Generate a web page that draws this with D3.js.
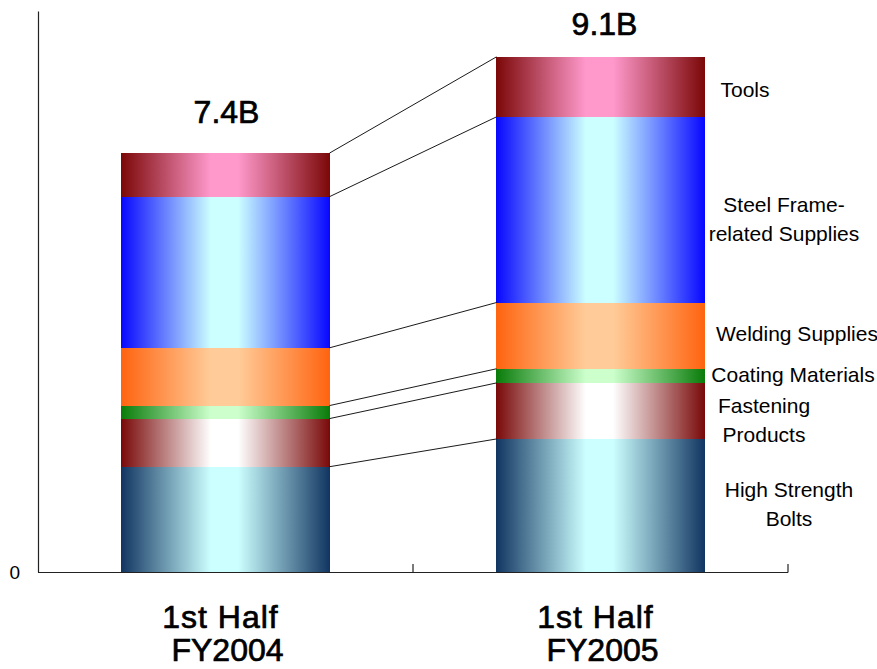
<!DOCTYPE html>
<html>
<head>
<meta charset="utf-8">
<script src="https://cdn.jsdelivr.net/npm/d3@7"></script>
<style>
  html, body { margin: 0; padding: 0; background: #ffffff; }
  svg { display: block; font-family: "Liberation Sans", Arial, sans-serif; }
</style>
</head>
<body>
<svg id="chart" width="877" height="669"></svg>
<script>
// ---- data ----
const categories = ["1st Half FY2004", "1st Half FY2005"];
const categoryLine1 = ["1st Half", "1st Half"];
const categoryLine2 = ["FY2004", "FY2005"];
const totalLabels = ["7.4B", "9.1B"];
const segments = ["High Strength Bolts", "Fastening Products", "Coating Materials",
                  "Welding Supplies", "Steel Frame-related Supplies", "Tools"];
const segmentLabelLines = [["High Strength", "Bolts"], ["Fastening", "Products"], ["Coating Materials"],
                           ["Welding Supplies"], ["Steel Frame-", "related Supplies"], ["Tools"]];
const valuesFY2004 = [1.86, 0.85, 0.23, 1.02, 2.67, 0.77];
const valuesFY2005 = [2.35, 0.99, 0.25, 1.17, 3.28, 1.06];
const yTicks = [0];

// ---- styles / layout ----
const edgeColors   = ["#123662", "#7a0a0a", "#0a7c0a", "#ff6410", "#0808ff", "#7c0808"];
const centerColors = ["#ccffff", "#ffffff", "#ccffcc", "#ffcc99", "#ccffff", "#ff99cc"];
const labelCenterX = [789, 764, 793, 797, 784, 745];
const labelShiftY  = [-1, 9, -1.5, -2.5, 9, 3];
const totalLabelDx = [1, 4];
const totalLabelGap = [30, 22];
const catLineDx = [[-5, 2], [-5, 2]];

const svg = d3.select("#chart");
const x0 = 38, x1 = 788, yBase = 572, yTop = 11;

const x = d3.scaleBand().domain(categories).range([x0, x1])
  .paddingInner(0.4453).paddingOuter(0.4453 / 2);
const y = d3.scaleLinear().domain([0, 9.91]).range([yBase, yTop]);

const series = [valuesFY2004, valuesFY2005];
const stacked = series.map((vals, ci) => {
  let acc = 0;
  return vals.map((v, si) => {
    const d = { cat: categories[ci], si, y0: acc, y1: acc + v };
    acc += v;
    return d;
  });
});

// gradients
const defs = svg.append("defs");
segments.forEach((s, i) => {
  const g = defs.append("linearGradient").attr("id", "grad" + i)
    .attr("x1", "0%").attr("x2", "100%").attr("y1", "0%").attr("y2", "0%");
  g.append("stop").attr("offset", "0%").attr("stop-color", edgeColors[i]);
  g.append("stop").attr("offset", "43%").attr("stop-color", centerColors[i]);
  g.append("stop").attr("offset", "56%").attr("stop-color", centerColors[i]);
  g.append("stop").attr("offset", "100%").attr("stop-color", edgeColors[i]);
});

// bars
svg.append("g").attr("shape-rendering", "crispEdges")
  .selectAll("g.bar").data(stacked).join("g").attr("class", "bar")
  .selectAll("rect").data(d => d).join("rect")
  .attr("x", d => x(d.cat))
  .attr("width", x.bandwidth())
  .attr("y", d => y(d.y1))
  .attr("height", d => y(d.y0) - y(d.y1))
  .attr("fill", d => "url(#grad" + d.si + ")");

// connector lines
svg.append("g").selectAll("line").data(segments).join("line")
  .attr("x1", x(categories[0]) + x.bandwidth())
  .attr("y1", (s, i) => y(stacked[0][i].y1))
  .attr("x2", x(categories[1]))
  .attr("y2", (s, i) => y(stacked[1][i].y1))
  .attr("stroke", "#000").attr("stroke-width", 0.9);

// y axis (line via d3.axisLeft, tick label drawn explicitly)
const yAxis = d3.axisLeft(y).tickValues(yTicks).tickSize(0).tickSizeOuter(0).tickFormat("");
const gy = svg.append("g").attr("transform", `translate(${x0},0)`).call(yAxis);
gy.select(".domain").attr("stroke", "#222").attr("stroke-width", 1.2);
svg.append("g").selectAll("text").data(yTicks).join("text")
  .attr("x", 20).attr("y", d => y(d) + 7)
  .attr("text-anchor", "end")
  .attr("font-family", "Liberation Sans, Arial, sans-serif")
  .attr("font-size", "19px").attr("fill", "#000")
  .text(d => d3.format("d")(d));

// x axis: baseline with category-boundary ticks
const boundaries = categories.map(c => x(c) - x.step() * x.paddingInner() / 2 + x.step());
svg.append("line").attr("x1", x0).attr("x2", x1).attr("y1", yBase + 0.5).attr("y2", yBase + 0.5)
  .attr("stroke", "#222").attr("stroke-width", 1.2);
svg.append("g").selectAll("line").data(boundaries).join("line")
  .attr("x1", d => d).attr("x2", d => d)
  .attr("y1", yBase + 0.5).attr("y2", yBase - 8)
  .attr("stroke", "#222").attr("stroke-width", 1.2);

// total labels
svg.append("g").selectAll("text").data(totalLabels).join("text")
  .attr("x", (d, i) => x(categories[i]) + x.bandwidth() / 2 + totalLabelDx[i])
  .attr("y", (d, i) => y(d3.sum(series[i])) - totalLabelGap[i])
  .attr("text-anchor", "middle").attr("font-size", 32)
  .attr("fill", "#000").attr("stroke", "#000").attr("stroke-width", 0.7)
  .text(d => d);

// category labels
const cg = svg.append("g").selectAll("text").data(categories).join("text")
  .attr("text-anchor", "middle").attr("font-size", 32)
  .attr("fill", "#000").attr("stroke", "#000").attr("stroke-width", 0.7);
cg.append("tspan").attr("x", (d, i) => x(d) + x.bandwidth() / 2 + catLineDx[i][0]).attr("y", 628)
  .attr("letter-spacing", 1).text((d, i) => categoryLine1[i]);
cg.append("tspan").attr("x", (d, i) => x(d) + x.bandwidth() / 2 + catLineDx[i][1]).attr("y", 661)
  .text((d, i) => categoryLine2[i]);

// segment labels (right of second bar)
const lineH = 29;
const lg = svg.append("g").selectAll("text").data(segmentLabelLines).join("text")
  .attr("text-anchor", "middle").attr("font-size", 21).attr("fill", "#000");
lg.each(function(lines, i) {
  const seg = stacked[1][i];
  const mid = (y(seg.y0) + y(seg.y1)) / 2 + labelShiftY[i];
  const first = mid - (lines.length - 1) * lineH / 2 + 7.5;
  d3.select(this).selectAll("tspan").data(lines).join("tspan")
    .attr("x", labelCenterX[i])
    .attr("y", (l, k) => first + k * lineH)
    .text(l => l);
});
</script>
</body>
</html>
